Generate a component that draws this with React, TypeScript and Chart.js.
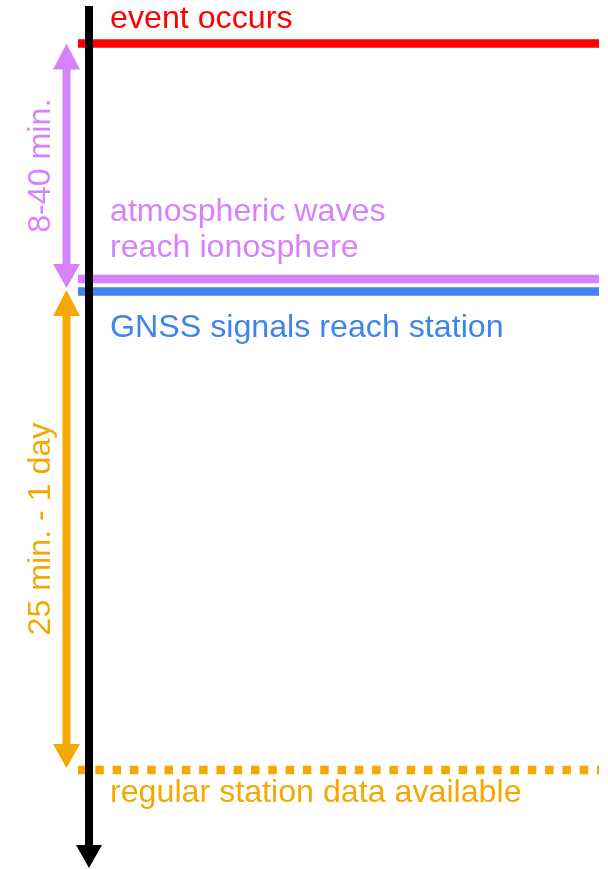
import React, { useEffect, useRef } from "react";
import { Chart, registerables } from "chart.js";

Chart.register(...registerables);

// Schematic timeline (vertical axis = time, downwards)
const eventLabels = ["event occurs", "atmospheric waves\nreach ionosphere", "GNSS signals reach station", "regular station data available"];
const eventTimes = [43.5, 279, 291.5, 770];
const eventColors = ["#FF0000", "#D682FF", "#3E84EE", "#F5A900"];
const eventDashed = [false, false, false, true];
const eventLabelBaselines = [28, 220.5, 337, 802];

const intervalLabels = ["8-40 min.", "25 min. - 1 day"];
const intervalStarts = [43.5, 290];
const intervalEnds = [288, 768];
const intervalColors = ["#D682FF", "#F5A900"];

const timeAxisStart = 6;
const timeAxisEnd = 868;

const FONT = "32.2px 'Liberation Sans', Arial, sans-serif";

const AXIS_X = 89;
const LINE_X0 = 78;
const LINE_X1 = 599;
const INTERVAL_X = 66.5;
const LABEL_X = 110;
const INTERVAL_LABEL_X = 50;

function arrowHead(ctx: CanvasRenderingContext2D, x: number, tipY: number, baseY: number, half: number, color: string) {
  ctx.fillStyle = color;
  ctx.beginPath();
  ctx.moveTo(x, tipY);
  ctx.lineTo(x - half, baseY);
  ctx.lineTo(x + half, baseY);
  ctx.closePath();
  ctx.fill();
}

const annotationPlugin = {
  id: "timelineAnnotations",
  afterDatasetsDraw(chart: any) {
    const ctx: CanvasRenderingContext2D = chart.ctx;
    const xs = chart.scales.x;
    const ys = chart.scales.y;
    ctx.save();
    // time axis arrowhead
    const tip = ys.getPixelForValue(timeAxisEnd);
    arrowHead(ctx, xs.getPixelForValue(AXIS_X), tip, tip - 23, 13, "#000000");
    // interval arrowheads
    intervalLabels.forEach((_, i) => {
      const x = xs.getPixelForValue(INTERVAL_X);
      const a = ys.getPixelForValue(intervalStarts[i]);
      const b = ys.getPixelForValue(intervalEnds[i]);
      arrowHead(ctx, x, a, a + 26, 13.5, intervalColors[i]);
      arrowHead(ctx, x, b, b - 24, 13.5, intervalColors[i]);
    });
    // event labels
    ctx.font = FONT;
    ctx.textAlign = "left";
    ctx.textBaseline = "alphabetic";
    eventLabels.forEach((label, i) => {
      ctx.fillStyle = eventColors[i];
      const lines = label.split("\n");
      const base = ys.getPixelForValue(eventLabelBaselines[i]);
      lines.forEach((ln, j) => {
        ctx.fillText(ln, xs.getPixelForValue(LABEL_X), base + j * 36.5);
      });
    });
    // interval labels (rotated)
    intervalLabels.forEach((label, i) => {
      const mid = ys.getPixelForValue((intervalStarts[i] + intervalEnds[i]) / 2);
      ctx.save();
      ctx.translate(xs.getPixelForValue(INTERVAL_LABEL_X), mid);
      ctx.rotate(-Math.PI / 2);
      ctx.fillStyle = intervalColors[i];
      ctx.textAlign = "center";
      ctx.fillText(label, 0, 0);
      ctx.restore();
    });
    ctx.restore();
  },
};

export default function App() {
  const ref = useRef<HTMLCanvasElement | null>(null);
  useEffect(() => {
    if (!ref.current) return;
    const datasets: any[] = [];
    // time axis shaft
    datasets.push({
      data: [{ x: AXIS_X, y: timeAxisStart }, { x: AXIS_X, y: timeAxisEnd - 22 }],
      borderColor: "#000000",
      borderWidth: 8,
    });
    // interval shafts
    intervalLabels.forEach((_, i) => {
      datasets.push({
        data: [{ x: INTERVAL_X, y: intervalStarts[i] + 24 }, { x: INTERVAL_X, y: intervalEnds[i] - 22 }],
        borderColor: intervalColors[i],
        borderWidth: 8,
      });
    });
    // event lines
    eventTimes.forEach((t, i) => {
      datasets.push({
        data: [{ x: LINE_X0, y: t }, { x: LINE_X1, y: t }],
        borderColor: eventColors[i],
        borderWidth: 8.5,
        borderDash: eventDashed[i] ? [8.5, 8.8] : [],
      });
    });
    datasets.forEach((d) => {
      d.pointRadius = 0;
      d.borderCapStyle = "butt";
      d.fill = false;
      d.tension = 0;
    });
    const chart = new Chart(ref.current, {
      type: "line",
      data: { datasets },
      options: {
        animation: false,
        responsive: false,
        maintainAspectRatio: false,
        layout: { padding: 0 },
        plugins: { legend: { display: false }, tooltip: { enabled: false } },
        scales: {
          x: { type: "linear", min: 0, max: 608, display: false },
          y: { type: "linear", min: 0, max: 869, reverse: true, display: false },
        },
      },
      plugins: [annotationPlugin],
    });
    return () => chart.destroy();
  }, []);
  return (
    <div style={{ position: "fixed", left: 0, top: 0, width: 608, height: 869, background: "#ffffff" }}>
      <canvas ref={ref} width={608} height={869} style={{ display: "block", width: 608, height: 869 }} />
    </div>
  );
}
